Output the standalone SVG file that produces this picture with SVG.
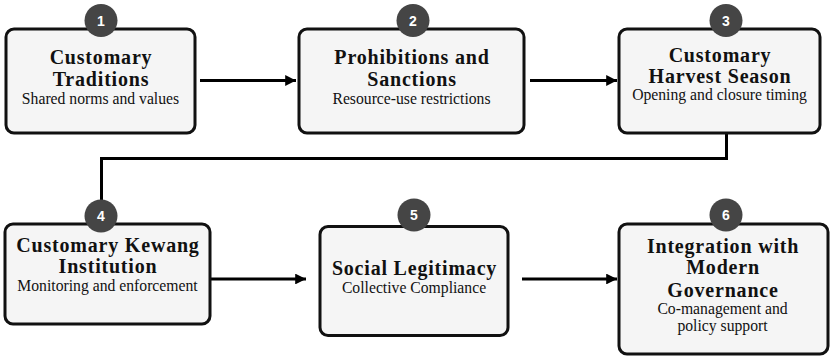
<svg xmlns="http://www.w3.org/2000/svg" width="838" height="360" viewBox="0 0 838 360">
<defs>
<marker id="ah" viewBox="0 0 10 10" refX="10" refY="5" markerWidth="3.6" markerHeight="3.6" markerUnits="strokeWidth" orient="auto">
<path d="M0,0 L10,5 L0,10 z" fill="#000"/>
</marker>
</defs>
<style>
.box{fill:#f5f5f5;stroke:#111;stroke-width:3}
.badge{fill:#454545}
.num{font-family:"Liberation Sans",Arial,sans-serif;font-weight:bold;font-size:14px;fill:#fff;text-anchor:middle}
.t{font-family:"Liberation Serif","Times New Roman",serif;font-weight:bold;font-size:20px;letter-spacing:0.8px;fill:#111;text-anchor:middle}
.s{font-family:"Liberation Serif","Times New Roman",serif;font-size:15.7px;fill:#111;text-anchor:middle}
.c{fill:none;stroke:#000;stroke-width:3}
</style>
<rect width="838" height="360" fill="#fff"/>
<g id="connectors">
<line class="c" x1="200" y1="80.5" x2="296" y2="80.5" marker-end="url(#ah)"/>
<line class="c" x1="530" y1="80.5" x2="617" y2="80.5" marker-end="url(#ah)"/>
<path class="c" d="M726.5,133 V158.5 H101.5 V223"/>
<line class="c" x1="211" y1="279" x2="306" y2="279" marker-end="url(#ah)"/>
<line class="c" x1="522" y1="279" x2="617" y2="279" marker-end="url(#ah)"/>
</g>
<g id="node1">
<rect class="box" x="6" y="29" width="189" height="104" rx="8"/>
<circle class="badge" cx="101" cy="20.5" r="16.5"/>
<text class="num" x="101" y="25.5">1</text>
<text class="t" x="101" y="64">Customary</text>
<text class="t" x="101" y="86">Traditions</text>
<text class="s" x="100.5" y="104">Shared norms and values</text>
</g>
<g id="node2">
<rect class="box" x="299" y="29" width="225" height="104" rx="8"/>
<circle class="badge" cx="413" cy="20.5" r="16.5"/>
<text class="num" x="413" y="25.5">2</text>
<text class="t" x="412" y="64">Prohibitions and</text>
<text class="t" x="412" y="86">Sanctions</text>
<text class="s" x="411.5" y="104">Resource-use restrictions</text>
</g>
<g id="node3">
<rect class="box" x="619" y="29" width="201" height="104" rx="8"/>
<circle class="badge" cx="726" cy="20.5" r="16.5"/>
<text class="num" x="726" y="25.5">3</text>
<text class="t" x="720" y="62">Customary</text>
<text class="t" x="720" y="83">Harvest Season</text>
<text class="s" x="719.5" y="100">Opening and closure timing</text>
</g>
<g id="node4">
<rect class="box" x="5" y="224" width="205" height="100" rx="8"/>
<circle class="badge" cx="101" cy="216" r="16.5"/>
<text class="num" x="101" y="221">4</text>
<text class="t" x="108" y="252">Customary Kewang</text>
<text class="t" x="108" y="273">Institution</text>
<text class="s" x="107.5" y="291">Monitoring and enforcement</text>
</g>
<g id="node5">
<rect class="box" x="320" y="226.5" width="188" height="109" rx="8"/>
<circle class="badge" cx="414" cy="215" r="16.5"/>
<text class="num" x="414" y="220">5</text>
<text class="t" x="414.5" y="275">Social Legitimacy</text>
<text class="s" x="414" y="293">Collective Compliance</text>
</g>
<g id="node6">
<rect class="box" x="619" y="224" width="209" height="130" rx="8"/>
<circle class="badge" cx="726" cy="215" r="16.5"/>
<text class="num" x="726" y="220">6</text>
<text class="t" x="723" y="253">Integration with</text>
<text class="t" x="723" y="274">Modern</text>
<text class="t" x="723" y="297">Governance</text>
<text class="s" x="722.5" y="314">Co-management  and</text>
<text class="s" x="722.5" y="331">policy support</text>
</g>
</svg>
